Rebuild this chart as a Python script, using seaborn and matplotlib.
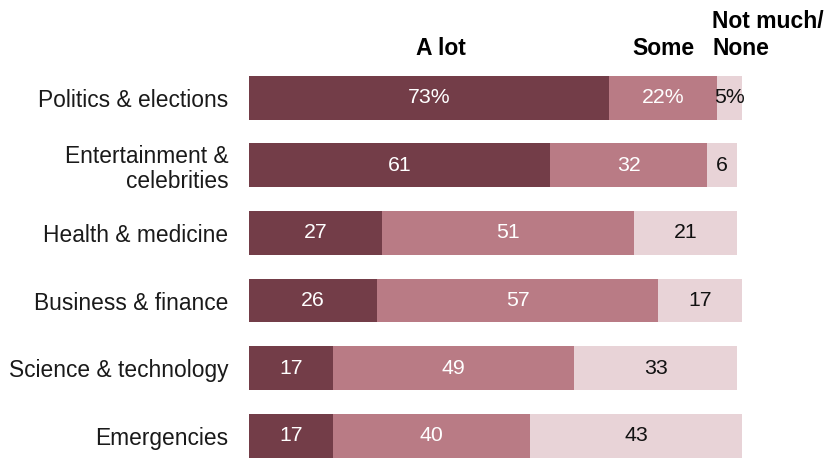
import pandas as pd
import seaborn as sns
import matplotlib.pyplot as plt

# --- data
topics = ['Politics & elections', 'Entertainment &\ncelebrities', 'Health & medicine',
          'Business & finance', 'Science & technology', 'Emergencies']
a_lot = [73, 61, 27, 26, 17, 17]
some = [22, 32, 51, 57, 49, 40]
not_much = [5, 6, 21, 17, 33, 43]

c_dark = '#733d48'
c_mid = '#b97b85'
c_light = '#e8d3d7'

df = pd.DataFrame({'topic': topics, 'a_lot': a_lot, 'some': some, 'not_much': not_much})
df['cum2'] = df.a_lot + df.some
df['cum3'] = df.cum2 + df.not_much

sns.set_theme(style='white')
plt.rcParams['font.family'] = ['Liberation Sans', 'DejaVu Sans']

f = plt.figure(figsize=(8.36, 4.58), dpi=100)
ax = f.add_axes([249/836, 0, 493/836, 1 - 64/458])

# --- stacked bars drawn as overlapping cumulative bars
for col, c in [('cum3', c_light), ('cum2', c_mid), ('a_lot', c_dark)]:
    sns.barplot(data=df, x=col, y='topic', color=c, width=0.65, ax=ax,
                saturation=1, linewidth=0, orient='h')

ax.set_xlim(0, 100)
ax.set_ylim(5.33, -0.5)
ax.set_xlabel('')
ax.set_ylabel('')
ax.set_xticks([])
ax.tick_params(axis='y', length=0, pad=15, labelsize=16.4, labelcolor='#1a1a1a')
for t in ax.get_yticklabels():
    t.set_linespacing(1.1)
sns.despine(ax=ax, left=True, bottom=True)

# --- segment labels
fs = 15.3
for i, row in df.iterrows():
    pct = '%' if i == 0 else ''
    ax.text(row.a_lot / 2, i, f'{row.a_lot}{pct}', ha='center', va='center',
            color='white', fontsize=fs)
    ax.text(row.a_lot + row.some / 2, i, f'{row.some}{pct}', ha='center', va='center',
            color='white', fontsize=fs)
    ax.text(row.cum2 + row.not_much / 2, i, f'{row.not_much}{pct}', ha='center', va='center',
            color='#111111', fontsize=fs)

# --- column headers
hdr = dict(fontsize=16.5, fontweight='bold', family=['Liberation Sans Narrow', 'Liberation Sans'],
           va='baseline', color='black')
ax.text(df.a_lot[0] / 2 + 2.5, -0.635, 'A lot', ha='center', **hdr)
ax.text(df.a_lot[0] + df.some[0] / 2, -0.635, 'Some', ha='center', **hdr)
ax.text(df.cum2[0] - 1, -0.635, 'Not much/\nNone', ha='left', linespacing=1.2, **hdr)

plt.savefig('out.png', dpi=100)
